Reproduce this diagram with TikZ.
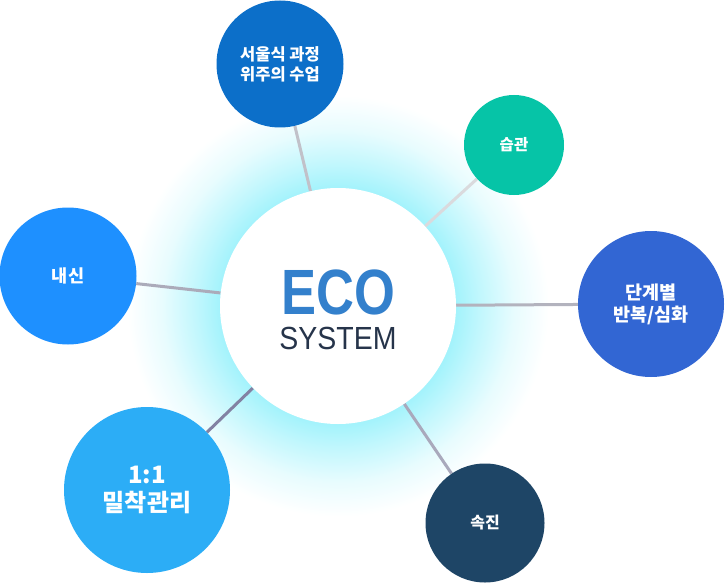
\documentclass[tikz,border=0pt]{standalone}
\usepackage{fontspec}
\setmainfont{Liberation Sans}
\newfontfamily\krfont{Noto Sans CJK KR}
\newfontfamily\ecofont[FakeStretch=0.82]{Liberation Sans}
\newfontfamily\sysfont[FakeStretch=0.89]{Liberation Sans}
\usetikzlibrary{backgrounds}

\definecolor{essayc}{HTML}{0C6FC9}
\definecolor{habitc}{HTML}{06C4A7}
\definecolor{levelc}{HTML}{3266D3}
\definecolor{speedc}{HTML}{1E4566}
\definecolor{mentorc}{HTML}{2CADF6}
\definecolor{schoolc}{HTML}{1E90FF}
\definecolor{ecoblue}{HTML}{3380CC}
\definecolor{sysdark}{HTML}{26344A}
\definecolor{glowc}{HTML}{A4F3FC}

\pgfdeclareradialshading{ecoglow}{\pgfpoint{0bp}{0bp}}{color(0bp)=(glowc); color(13.8bp)=(glowc); color(16.5bp)=(glowc!68!white); color(20.5bp)=(glowc!25!white); color(24.5bp)=(white); color(50bp)=(white)}

\tikzset{
  bubble/.style={circle, inner sep=0pt, align=center, text=white},
  link/.style={line width=3pt}
}

\begin{document}
\begin{tikzpicture}[x=1pt,y=-1pt]
    \useasboundingbox (0,0) rectangle (725,583);
    % centre
    \node [circle, fill=white, minimum size=236pt] (eco) at (338,306) {};
    \node [inner sep=0pt, text=ecoblue, font=\ecofont\bfseries\fontsize{64}{64}\selectfont] (ecot) at (338,292) {ECO};
    \node [inner sep=0pt, text=sysdark, font=\sysfont\fontsize{32}{32}\selectfont] (syst) at (338,338) {SYSTEM};
    % satellites
    \node [bubble, fill=essayc, minimum size=127pt, font=\krfont\bfseries\fontsize{16.5}{20}\selectfont] (essay) at (280,64) {서울식 과정\\위주의 수업};
    \node [bubble, fill=habitc, minimum size=100pt, font=\krfont\bfseries\fontsize{15.5}{19}\selectfont] (habit) at (514,145) {습관};
    \node [bubble, fill=levelc, minimum size=146pt, font=\krfont\bfseries\fontsize{18.5}{22}\selectfont] (level) at (651,304) {단계별\\반복/심화};
    \node [bubble, fill=speedc, minimum size=119pt, font=\krfont\bfseries\fontsize{16}{19}\selectfont] (speed) at (485,523) {속진};
    \node [bubble, fill=mentorc, minimum size=166pt, font=\krfont\bfseries\fontsize{24}{28}\selectfont] (mentor) at (147,490) {1:1\\밀착관리};
    \node [bubble, fill=schoolc, minimum size=137pt, font=\krfont\bfseries\fontsize{17.5}{20}\selectfont] (school) at (68,276) {내신};
    \begin{scope}[on background layer]
        \shade [shading=ecoglow] (338,306) circle (215);
        \draw [link, color=black!10!blue!8!gray!45] (eco) -- (essay);
        \draw [link, color=blue!5!gray!28] (eco) -- (habit);
        \draw [link, color=blue!8!gray!55] (eco) -- (level);
        \draw [link, color=blue!12!gray!60] (eco) -- (speed);
        \draw [link, color=blue!15!gray!85] (eco) -- (mentor);
        \draw [link, color=blue!10!gray!60] (eco) -- (school);
    \end{scope}
\end{tikzpicture}
\end{document}
